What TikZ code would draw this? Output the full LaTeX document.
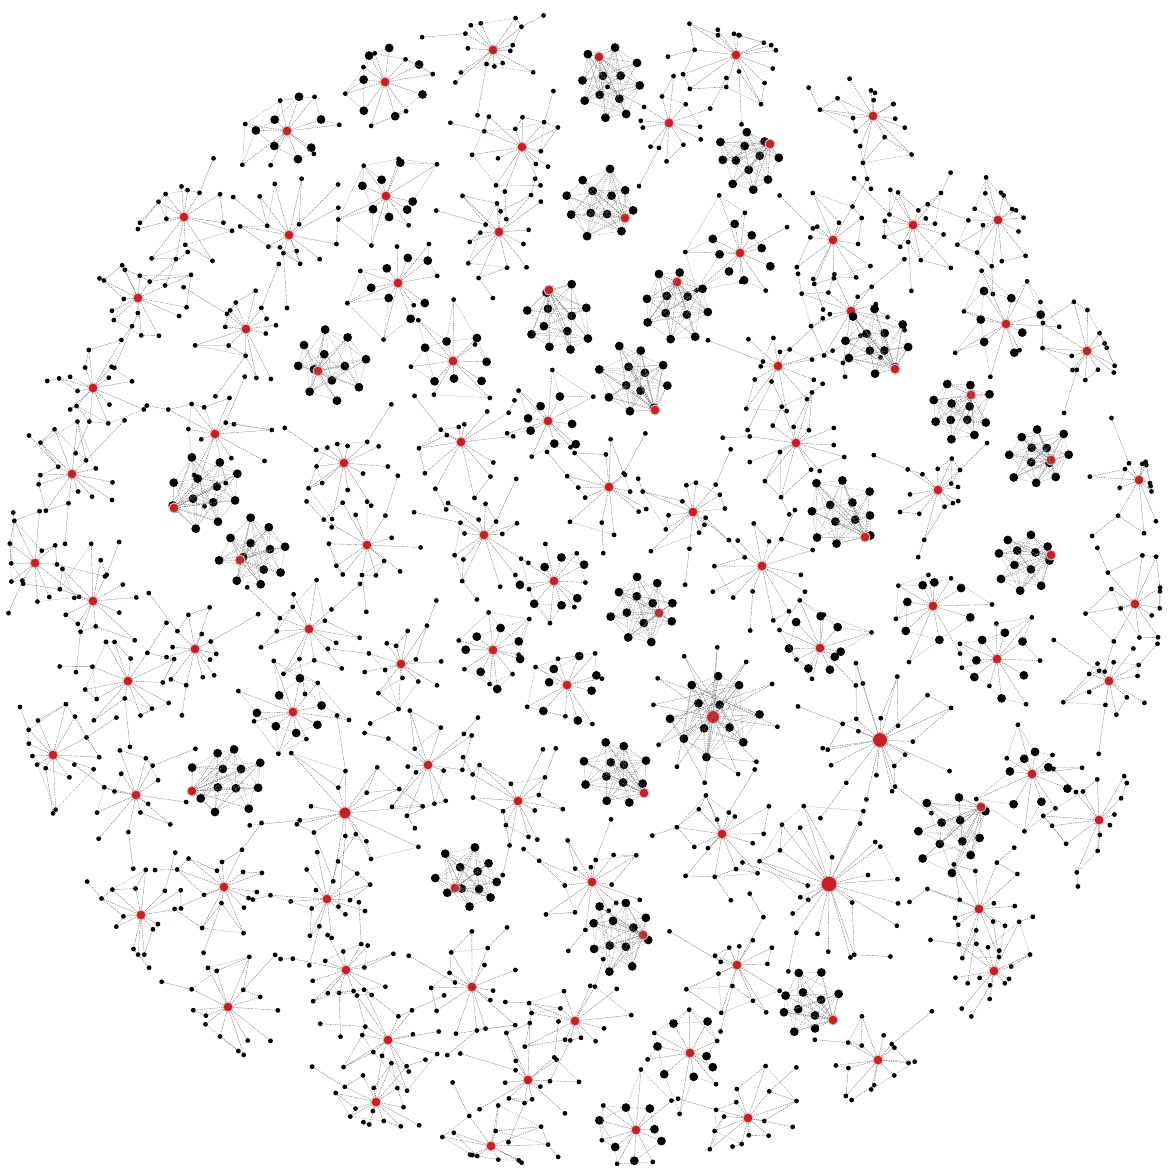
\documentclass[tikz,border=0pt]{standalone}
\definecolor{hubred}{RGB}{196,32,38}
\tikzset{
  hub/.style={circle,fill=hubred,draw=hubred!30,line width=1pt,inner sep=0pt,minimum size=#1},
  leaf/.style={circle,fill=black,inner sep=0pt,minimum size=4.8pt},
  bigleaf/.style={circle,fill=black,inner sep=0pt,minimum size=8.8pt},
  edge/.style={draw=black!62,line width=0.35pt,dash pattern=on 1.5pt off 0.9pt},
  mesh/.style={draw=black!48,line width=0.3pt,dash pattern=on 1.2pt off 0.9pt},
}
\newcommand\mkpos[4]{%
  \pgfmathsetmacro\qx{#1+(#4)*cos(#3)}%
  \pgfmathsetmacro\qy{#2+(#4)*sin(#3)}%
  \pgfmathsetmacro\qd{veclen(\qx-584,\qy-590)}%
  \pgfmathsetmacro\qf{min(1,576/max(\qd,1))}%
  \pgfmathsetmacro\qx{584+(\qx-584)*\qf}%
  \pgfmathsetmacro\qy{590+(\qy-590)*\qf}%
}
\newcommand\placehub{\node[hub=\hs pt] (h\i) at (\cx,\cy) {};}
\newcommand\starcluster{%
  \pgfmathsetmacro\rmax{\hs>11 ? 62 : 44}%
  \pgfmathsetmacro\rmin{\hs>11 ? 20 : 14}%
  \pgfmathtruncatemacro\nt{\hs>11 ? \nn : \nn+3}%
  \foreach \j in {1,...,\nt}{%
    \pgfmathsetmacro\ang{\j*360/\nt+rnd*26-13}%
    \pgfmathsetmacro\rad{\rmin+rnd*\rmax}%
    \mkpos{\cx}{\cy}{\ang}{\rad}%
    \node[leaf] (s\i-\j) at (\qx,\qy) {};
  }%
  \foreach \j in {1,2,3}{%
    \pgfmathtruncatemacro\mm{\j*4}%
    \pgfmathsetmacro\ang{\mm*360/\nt+rnd*30-15}%
    \pgfmathsetmacro\rad{\rmin+\rmax+6+rnd*12}%
    \mkpos{\cx}{\cy}{\ang}{\rad}%
    \node[leaf] (t\i-\j) at (\qx,\qy) {};
    \draw[edge] (t\i-\j) -- (s\i-\mm);
  }%
  \placehub
  \foreach \j in {1,...,\nt}{\draw[edge] (h\i) -- (s\i-\j);}%
  \foreach \j in {3,...,\nt}{%
    \pgfmathtruncatemacro\kk{\j-1}%
    \pgfmathtruncatemacro\mm{\j-2}%
    \pgfmathsetmacro\uu{rnd}%
    \ifdim\uu pt<0.5pt\relax \draw[edge] (s\i-\j) -- (s\i-\kk);\fi
    \pgfmathsetmacro\uu{rnd}%
    \ifdim\uu pt<0.25pt\relax \draw[mesh] (s\i-\j) -- (s\i-\mm);\fi
  }%
}
\newcommand\medcluster{%
  \pgfmathtruncatemacro\nt{\nn+3}%
  \foreach \j in {1,...,\nt}{%
    \pgfmathsetmacro\ang{\j*360/\nt+rnd*26-13}%
    \ifodd\j\relax
      \pgfmathsetmacro\rad{16+rnd*24}%
      \mkpos{\cx}{\cy}{\ang}{\rad}%
      \node[bigleaf] (s\i-\j) at (\qx,\qy) {};
    \else
      \pgfmathsetmacro\rad{26+rnd*36}%
      \mkpos{\cx}{\cy}{\ang}{\rad}%
      \node[leaf] (s\i-\j) at (\qx,\qy) {};
    \fi
  }%
  \placehub
  \foreach \j in {1,...,\nt}{\draw[edge] (h\i) -- (s\i-\j);}%
  \foreach \j in {3,...,\nt}{%
    \pgfmathtruncatemacro\kk{\j-1}%
    \pgfmathtruncatemacro\mm{\j-2}%
    \pgfmathsetmacro\uu{rnd}%
    \ifdim\uu pt<0.6pt\relax \draw[mesh] (s\i-\j) -- (s\i-\kk);\fi
    \pgfmathsetmacro\uu{rnd}%
    \ifdim\uu pt<0.5pt\relax \draw[mesh] (s\i-\j) -- (s\i-\mm);\fi
  }%
}
\newcommand\densenodes{%
  \pgfmathsetmacro\ox{\cx+\ddx*1.15}%
  \pgfmathsetmacro\oy{\cy+\ddy*1.15}%
  \pgfmathsetmacro\rot{rnd*45}%
  \foreach \j in {1,...,12}{%
    \ifnum\j<9\relax
      \pgfmathsetmacro\ang{\rot+\j*45+rnd*18-9}%
      \pgfmathsetmacro\rad{\nn*(1.0+0.38*rnd)}%
    \else
      \pgfmathsetmacro\ang{\rot+\j*90+22+rnd*30}%
      \pgfmathsetmacro\rad{\nn*(0.4+0.2*rnd)}%
    \fi
    \mkpos{\ox}{\oy}{\ang}{\rad}%
    \node[bigleaf] (b\i-\j) at (\qx,\qy) {};
  }%
}
\newcommand\denseedges{%
  \foreach \j in {1,...,12}{\draw[edge] (h\i) -- (b\i-\j);}%
  \foreach \j in {1,...,11}{%
    \foreach \k in {1,...,12}{%
      \ifnum\k>\j\relax
        \pgfmathsetmacro\uu{rnd}%
        \ifdim\uu pt<0.6pt\relax \draw[mesh] (b\i-\j) -- (b\i-\k);\fi
      \fi
    }}%
}
\newcommand\densecluster{\densenodes\placehub\denseedges}
\newcommand\ringcluster{%
  \densenodes
  \foreach \j in {1,...,12}{%
    \pgfmathsetmacro\ang{\j*30+rnd*16}%
    \pgfmathsetmacro\rad{\nn*1.4+10+rnd*14}%
    \mkpos{\cx}{\cy}{\ang}{\rad}%
    \node[leaf] (r\i-\j) at (\qx,\qy) {};
  }%
  \placehub
  \denseedges
  \foreach \j in {1,...,12}{%
    \pgfmathtruncatemacro\kk{mod(\j,8)+1}%
    \draw[edge] (r\i-\j) -- (b\i-\kk);
    \draw[edge] (h\i) -- (r\i-\j);
  }}
\begin{document}
\begin{tikzpicture}[x=1pt,y=-1pt]
\pgfmathsetseed{12345}
\useasboundingbox (0,0) rectangle (1167,1175);
\fill[white] (0,0) rectangle (1167,1175);
\foreach \cx/\cy/\ty/\nn/\hs/\ddx/\ddy [count=\i] in {
 493/50/0/11/10/0/0, 599/57/1/28/10/10/24, 736/55/0/13/10/0/0, 385/82/2/11/10/0/0,
 287/131/2/11/10/0/0, 522/147/0/11/10/0/0, 669/123/0/10/10/0/0, 770/144/1/24/10/-20/14,
 873/116/0/12/10/0/0, 184/217/0/11/10/0/0, 386/196/2/10/10/0/0, 625/218/1/27/10/-22/-14,
 499/232/0/11/10/0/0, 289/235/0/11/10/0/0, 740/253/2/12/10/0/0, 833/240/0/11/10/0/0,
 913/225/0/11/10/0/0, 998/220/0/12/10/0/0, 138/298/0/11/10/0/0, 398/283/2/11/10/0/0,
 549/290/1/28/10/8/26, 677/282/1/28/10/-2/20, 246/329/0/11/10/0/0, 851/311/0/11/10/0/0,
 1006/324/2/11/10/0/0, 318/371/1/27/10/10/-4, 453/361/2/10/10/0/0, 778/366/0/11/10/0/0,
 895/369/1/25/10/-16/-25, 1087/351/0/10/10/0/0, 93/388/0/12/10/0/0, 655/410/1/27/10/-18/-28,
 971/395/1/26/10/-10/14, 215/434/0/11/10/0/0, 548/421/2/10/10/0/0, 344/463/0/11/10/0/0,
 461/442/0/10/10/0/0, 796/443/0/12/10/0/0, 72/474/0/11/10/0/0, 609/487/0/11/10/0/0,
 938/490/0/11/10/0/0, 1051/460/1/25/10/-10/-4, 1139/480/0/9/10/0/0, 174/508/1/28/10/28/-14,
 693/512/0/11/10/0/0, 484/535/0/11/10/0/0, 240/560/1/28/10/14/-4, 367/545/0/11/10/0/0,
 865/537/1/28/10/-20/-22, 35/563/0/9/10/0/0, 762/566/0/11/10/0/0, 1051/555/1/25/10/-24/4,
 554/581/2/11/10/0/0, 93/601/0/11/10/0/0, 933/606/2/11/10/0/0, 1135/604/0/9/10/0/0,
 309/629/0/11/10/0/0, 659/613/1/26/10/-16/-4, 195/649/0/10/10/0/0, 493/650/2/11/10/0/0,
 820/648/2/12/10/0/0, 997/659/2/11/10/0/0, 401/664/0/11/10/0/0, 128/681/0/11/10/0/0,
 567/685/2/11/10/0/0, 1109/681/0/10/10/0/0, 293/712/2/11/10/0/0, 713/717/3/34/13/0/0,
 880/740/0/22/15/0/0, 53/755/0/10/10/0/0, 428/765/0/11/10/0/0, 192/791/1/28/10/32/-10,
 136/795/0/11/10/0/0, 644/793/1/26/10/-24/-18, 1032/774/2/11/10/0/0, 518/801/0/11/10/0/0,
 345/813/0/16/12/0/0, 981/807/1/30/10/-27/22, 1099/820/0/10/10/0/0, 722/834/0/12/10/0/0,
 829/884/0/24/16/0/0, 592/882/0/12/10/0/0, 455/888/1/25/10/12/-8, 327/899/0/12/10/0/0,
 224/887/0/12/10/0/0, 141/915/0/11/10/0/0, 979/909/0/12/10/0/0, 643/935/1/28/10/-20/0,
 737/965/0/12/10/0/0, 346/970/0/12/10/0/0, 472/987/0/12/10/0/0, 994/971/0/11/10/0/0,
 228/1007/0/11/10/0/0, 575/1021/0/11/10/0/0, 833/1020/1/25/10/-20/-14, 388/1040/0/11/10/0/0,
 690/1053/2/10/10/0/0, 878/1060/0/11/10/0/0, 528/1080/0/11/10/0/0, 376/1102/0/11/10/0/0,
 748/1118/0/11/10/0/0, 491/1146/0/9/10/0/0, 636/1130/2/10/10/0/0
}{%
  \ifnum\ty=0\relax\starcluster\fi
  \ifnum\ty=1\relax\densecluster\fi
  \ifnum\ty=2\relax\medcluster\fi
  \ifnum\ty=3\relax\ringcluster\fi
}
\end{tikzpicture}
\end{document}
